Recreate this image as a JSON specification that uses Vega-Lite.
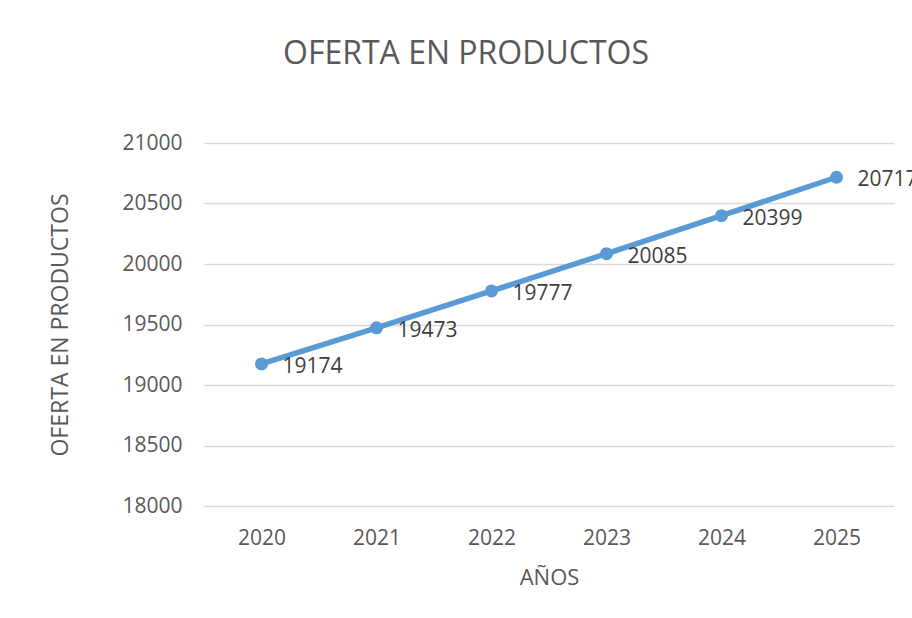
{
  "$schema": "https://vega.github.io/schema/vega-lite/v6.json",
  "width": 690,
  "height": 363,
  "autosize": "none",
  "padding": {"left": 204, "top": 143, "right": 18, "bottom": 112},
  "background": "white",
  "title": {
    "text": "OFERTA EN PRODUCTOS",
    "anchor": "middle",
    "dx": -83,
    "offset": 61,
    "fontSize": 32,
    "font": "Open Sans",
    "fontWeight": "normal",
    "color": "#595959"
  },
  "data": {
    "values": [
      {"year": "2020", "value": 19174},
      {"year": "2021", "value": 19473},
      {"year": "2022", "value": 19777},
      {"year": "2023", "value": 20085},
      {"year": "2024", "value": 20399},
      {"year": "2025", "value": 20717}
    ]
  },
  "config": {
    "view": {"stroke": null},
    "font": "Open Sans"
  },
  "encoding": {
    "x": {
      "field": "year",
      "type": "ordinal",
      "scale": {"type": "point", "padding": 0.5},
      "axis": {
        "title": "AÑOS",
        "titleFontSize": 22,
        "titleFontWeight": "normal",
        "titleColor": "#595959",
        "titlePadding": 19,
        "labelAngle": 0,
        "labelFontSize": 21,
        "labelColor": "#595959",
        "labelPadding": 21,
        "ticks": false,
        "domain": false,
        "grid": false
      }
    },
    "y": {
      "field": "value",
      "type": "quantitative",
      "scale": {"domain": [18000, 21000], "nice": false, "zero": false},
      "axis": {
        "title": "OFERTA EN PRODUCTOS",
        "titleFontSize": 23,
        "titleFontWeight": "normal",
        "titleColor": "#595959",
        "titlePadding": 49,
        "values": [18000, 18500, 19000, 19500, 20000, 20500, 21000],
        "format": "d",
        "labelFontSize": 21,
        "labelColor": "#595959",
        "labelPadding": 22,
        "ticks": false,
        "domain": false,
        "grid": true,
        "gridColor": "#d9d9d9",
        "gridWidth": 1.5
      }
    }
  },
  "layer": [
    {"mark": {"type": "line", "color": "#5b9bd5", "strokeWidth": 5.5}},
    {"mark": {"type": "point", "filled": true, "opacity": 1, "color": "#5b9bd5", "size": 170}},
    {
      "mark": {"type": "text", "align": "left", "baseline": "middle", "dx": 21, "dy": 3, "fontSize": 21, "color": "#404040"},
      "encoding": {"text": {"field": "value", "type": "quantitative", "format": "d"}}
    }
  ]
}
